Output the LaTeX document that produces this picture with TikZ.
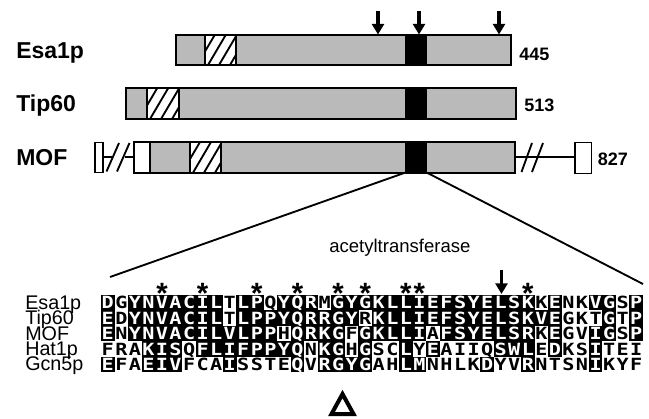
\documentclass[tikz,border=0pt]{standalone}
\usepackage{fontspec}
\setmainfont{Liberation Sans}
\newfontfamily\seqfont{DejaVu Sans Mono}
\usetikzlibrary{arrows.meta}
\tikzset{
  protlabel/.style={font=\fontsize{17.25}{20}\selectfont\bfseries, anchor=base west, inner sep=0},
  lenlabel/.style={font=\fontsize{13.5}{16}\selectfont\bfseries, anchor=base west, inner sep=0},
  seqlabel/.style={font=\fontsize{14.8}{15}\selectfont, anchor=base west, inner sep=0},
  annot/.style={font=\fontsize{13.9}{16}\selectfont, anchor=base west, inner sep=0},
  res/.style={font=\seqfont\bfseries\fontsize{12.6}{13}\selectfont, inner sep=0, anchor=base},
  starmark/.style={font=\fontsize{22}{24}\selectfont\bfseries, inner sep=0, anchor=base},
  shadefill/.style={fill=black!27},
  outline/.style={draw=black, line width=1.5pt},
  hatchline/.style={line width=1.4pt},
  downarrow/.style={line width=2.5pt, -{Triangle[width=9pt,length=8pt]}},
  conn/.style={line width=1.4pt},
  smallbox/.style={draw=black, line width=1.2pt, fill=white},
}
\newcommand\hatchbox[4]{%
  \fill[white] (#1,#2) rectangle (#3,#4);
  \begin{scope}
    \clip (#1,#2) rectangle (#3,#4);
    \foreach \hx in {-8,3,14,25}{
      \draw[hatchline] ({#1+\hx},#4) -- ({#1+\hx+18},#2);
    }
  \end{scope}
  \draw[outline] (#1,#2) -- (#1,#4) (#3,#2) -- (#3,#4);
}
\newcommand\seqrow[3]{%
  \foreach \ch/\b [count=\i] in {#3} {
    \pgfmathsetmacro\xc{101+(\i-0.5)*13.55}
    \ifnum\b=1
      \fill[black] ({\xc-6.85},{#2-7.75}) rectangle ({\xc+6.85},{#2+7.75});
      \node[res,text=white] (r#1c\i) at (\xc,{#2+6.1}) {\scalebox{1.2}[1]{\ch}};
    \else
      \node[res] (r#1c\i) at (\xc,{#2+6.1}) {\scalebox{1.2}[1]{\ch}};
    \fi
  }}
\begin{document}
\begin{tikzpicture}[x=0.75pt,y=-0.75pt]
\useasboundingbox (0,0) rectangle (649,418);

% ---------- Esa1p ----------
\fill[shadefill] (176,34.5) rectangle (511,65);
\hatchbox{205}{34.5}{236}{65}
\fill[black] (405,34.5) rectangle (427,65);
\draw[outline] (176,34.5) rectangle (511,65);
\node[protlabel] (lEsa) at (16,58.2) {Esa1p};
\node[lenlabel] (nEsa) at (519,60.7) {445};

% arrows above Esa1p
\foreach \ax [count=\k] in {378,419,499}{
  \coordinate (at\k) at (\ax,11);
  \coordinate (ab\k) at (\ax,34.5);
  \draw[downarrow] (at\k) -- (ab\k);
}

% ---------- Tip60 ----------
\fill[shadefill] (125.7,88) rectangle (515.7,118.5);
\hatchbox{147.3}{88}{179.3}{118.5}
\fill[black] (405,88) rectangle (427,118.5);
\draw[outline] (125.7,88) rectangle (515.7,118.5);
\node[protlabel] (lTip) at (16,111.5) {Tip60};
\node[lenlabel] (nTip) at (524,111.7) {513};

% ---------- MOF ----------
\coordinate (mofL1) at (103,157.3);
\coordinate (mofL2) at (112,157.3);
\coordinate (mofL3) at (125,157.3);
\coordinate (mofL4) at (134,157.3);
\draw[conn] (mofL1) -- (mofL2) (mofL3) -- (mofL4);
\draw[conn] (106.5,171.5) -- (119,143) (117,171.5) -- (129.5,143);
\node[smallbox, minimum width=6pt, minimum height=22.5pt, inner sep=0] (mofbox1) at (99,157.3) {};
\fill[white] (134,142) rectangle (150,172.7);
\fill[shadefill] (150,142) rectangle (515,172.7);
\hatchbox{190}{142}{221}{172.7}
\fill[black] (405,142) rectangle (427,172.7);
\draw[outline] (134,142) rectangle (515,172.7);
\draw[outline] (150,142) -- (150,172.7);
\coordinate (mofR1) at (515,157.3);
\coordinate (mofR2) at (575,157.3);
\draw[conn] (mofR1) -- (mofR2);
\draw[conn] (521.5,172) -- (532,143) (532,172) -- (543,143);
\node[smallbox, minimum width=12.5pt, minimum height=23pt, inner sep=0] (mofbox2) at (583.3,158) {};
\node[protlabel] (lMOF) at (16,165.7) {MOF};
\node[lenlabel] (nMOF) at (597.7,165.7) {827};

% ---------- zoom lines ----------
\coordinate (blkL) at (405,172.7);
\coordinate (blkR) at (427,172.7);
\coordinate (zoomL) at (110,277);
\coordinate (zoomR) at (643,284);
\draw[conn] (blkL) -- (zoomL);
\draw[conn] (blkR) -- (zoomR);
\node[annot] (acet) at (329,252) {acetyltransferase};

% ---------- alignment ----------
\seqrow{1}{302.7}{D/1,G/0,Y/1,N/1,V/1,A/1,C/1,I/1,L/1,T/0,L/1,P/1,Q/0,Y/1,Q/1,R/1,M/0,G/1,Y/1,G/1,K/1,L/1,L/1,I/1,E/1,F/1,S/1,Y/1,E/1,L/1,S/1,K/1,K/0,E/1,N/0,K/0,V/1,G/1,S/0,P/1}
\seqrow{2}{318.1}{E/1,D/0,Y/1,N/1,V/1,A/1,C/1,I/1,L/1,T/0,L/1,P/1,P/1,Y/1,Q/1,R/1,R/1,G/1,Y/1,R/0,K/1,L/1,L/1,I/1,E/1,F/1,S/1,Y/1,E/1,L/1,S/1,K/1,V/1,E/1,G/0,K/0,T/0,G/1,T/0,P/1}
\seqrow{3}{333.5}{E/1,N/0,Y/1,N/1,V/1,A/1,C/1,I/1,L/1,V/1,L/1,P/1,P/1,H/0,Q/1,R/1,K/1,G/1,F/0,G/1,K/1,L/1,L/1,I/1,A/0,F/1,S/1,Y/1,E/1,L/1,S/1,R/1,K/0,E/1,G/0,V/0,I/1,G/1,S/0,P/1}
\seqrow{4}{348.9}{F/0,R/0,A/0,K/1,I/1,S/1,Q/0,F/1,L/1,I/1,F/1,P/1,P/1,Y/1,Q/1,N/0,K/1,G/1,H/0,G/1,S/0,C/0,L/1,Y/0,E/1,A/0,I/0,I/0,Q/0,S/1,W/1,L/1,E/0,D/1,K/0,S/0,I/1,T/0,E/0,I/0}
\seqrow{5}{364.3}{E/1,F/0,A/0,E/1,I/1,V/1,F/0,C/0,A/0,I/1,S/0,S/0,T/0,E/0,Q/1,V/0,R/1,G/1,Y/1,G/1,A/0,H/0,L/1,M/1,N/0,H/0,L/0,K/0,D/1,Y/0,V/0,R/1,N/0,T/0,S/0,N/0,I/1,K/0,Y/0,F/0}

\node[seqlabel] (sEsa) at (25,309.2) {Esa1p};
\node[seqlabel] (sTip) at (25,324.6) {Tip60};
\node[seqlabel] (sMOF) at (25,340) {MOF};
\node[seqlabel] (sHat) at (25,355.4) {Hat1p};
\node[seqlabel] (sGcn) at (25,370.8) {Gcn5p};

% stars
\foreach \c [count=\k] in {5,8,12,15,18,20,23,24,32}{
  \node[starmark] (star\k) at ({101+(\c-0.5)*13.55},291) {\raisebox{-0.44em}[0.29em][0pt]{*}};
}
% alignment arrow
\coordinate (alnAt) at (501.5,270);
\coordinate (alnAb) at (501.5,294);
\draw[downarrow] (alnAt) -- (alnAb);
% triangle
\coordinate (triA) at (342.5,394);
\coordinate (triB) at (353.5,414);
\coordinate (triC) at (331.5,414);
\draw[line width=3pt, line join=miter] (triA) -- (triB) -- (triC) -- cycle;
\end{tikzpicture}
\end{document}
